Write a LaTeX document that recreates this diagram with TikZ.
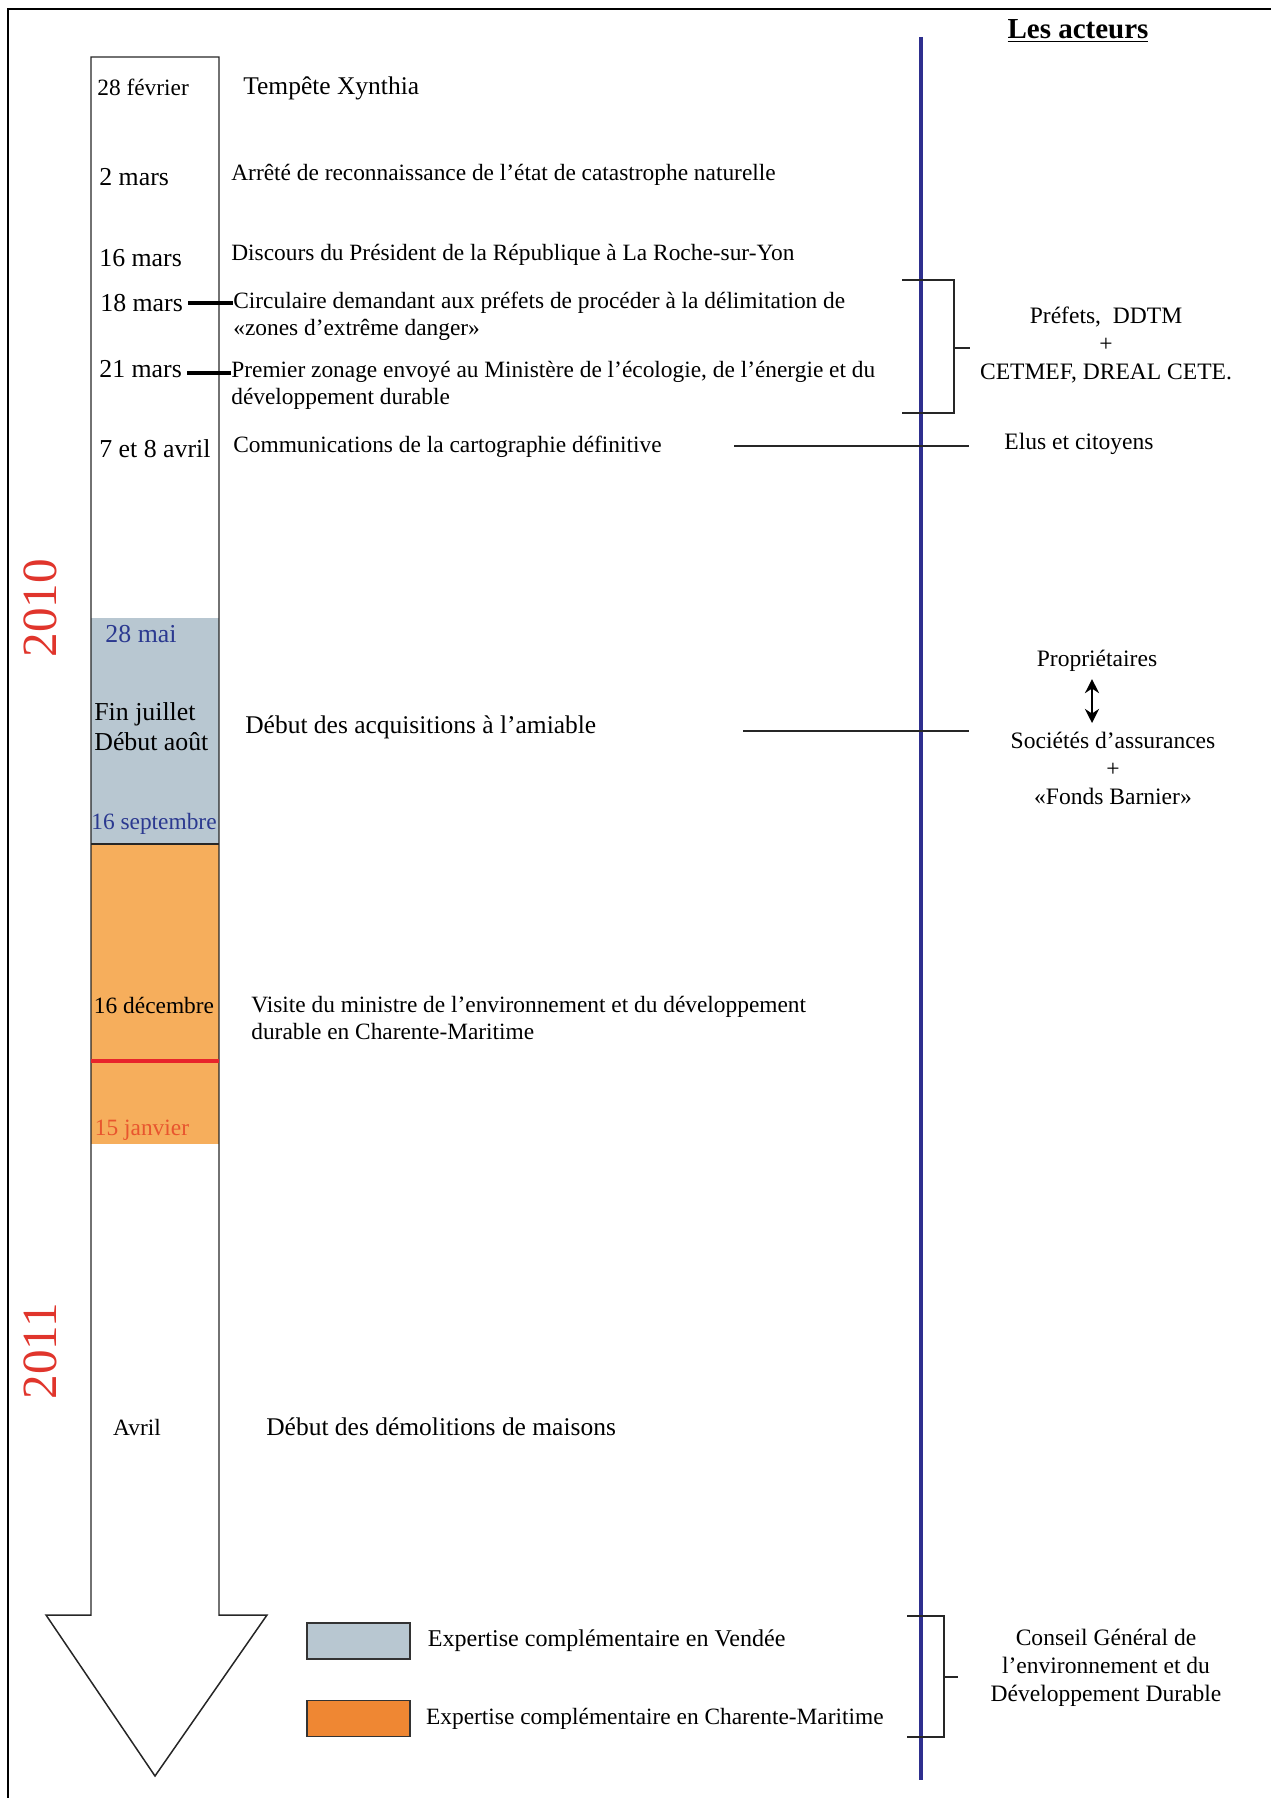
\documentclass[tikz,border=0pt]{standalone}
\usepackage{fontspec}
\setmainfont{Liberation Serif}
\usepackage{tikz}
\usetikzlibrary{arrows.meta, positioning, calc}
\definecolor{ActorBlue}{HTML}{2E2F8E}
\definecolor{VendeeGrey}{HTML}{B8C7D1}
\definecolor{CharOrange}{HTML}{F6AE5C}
\definecolor{LegendOrange}{HTML}{EF8733}
\definecolor{YearRed}{HTML}{E0352C}
\definecolor{DateBlue}{HTML}{2B3990}
\definecolor{MarkRed}{HTML}{E8242B}
\definecolor{JanRed}{HTML}{E8552E}
\tikzset{
  datelabel/.style={inner sep=0pt, anchor=west, font=\fontsize{13.3}{15.5}\selectfont},
  bigdate/.style={inner sep=0pt, anchor=west, font=\fontsize{14.7}{17}\selectfont},
  eventlabel/.style={inner sep=0pt, anchor=west, align=left, font=\fontsize{13.3}{15.4}\selectfont},
  bigevent/.style={inner sep=0pt, anchor=west, align=left, font=\fontsize{14.5}{17}\selectfont},
  actorlabel/.style={inner sep=0pt, align=center, font=\fontsize{13.4}{15.9}\selectfont},
  yearlabel/.style={inner sep=0pt, rotate=90, text=YearRed, font=\fontsize{28}{30}\selectfont},
  legendbox/.style={rectangle, draw=black!80, line width=1pt, minimum width=2.06cm, minimum height=0.72cm, inner sep=0pt},
  link/.style={draw=black!85, line width=0.85pt},
  tickline/.style={draw=black, line width=1.9pt},
  bracket/.style={draw=black!85, line width=0.85pt},
  dblarrow/.style={{Stealth[length=8pt,width=8pt]}-{Stealth[length=8pt,width=8pt]}, line width=1.4pt}
}
\begin{document}
\begin{tikzpicture}[x=0.02cm, y=-0.02cm]
  \useasboundingbox (0,0) rectangle (1271,1798);
  \draw[line width=1.6pt] (8,1798) -- (8,9) -- (1271,9);

  \fill[VendeeGrey] (91,618) rectangle (219,844);
  \fill[CharOrange] (91,844) rectangle (219,1144);
  \draw[black!85, line width=0.85pt] (91,57) -- (219,57) -- (219,1615) -- (267,1615) -- (155,1776) -- (46,1615) -- (91,1615) -- cycle;
  \draw[black!85, line width=0.85pt] (91,844) -- (219,844);
  \draw[MarkRed, line width=2.3pt] (91,1061) -- (219,1061);
  \draw[ActorBlue, line width=2.8pt] (921,37) -- (921,1780);

  \node[yearlabel] (y2010) at (40,608) {2010};
  \node[yearlabel] (y2011) at (40,1351) {2011};

  \node[datelabel] (d1) at (97,87) {28 février};
  \node[bigdate] (d2) at (99,177) {2 mars};
  \node[bigdate] (d3) at (99,258) {16 mars};
  \node[bigdate] (d4) at (100,303) {18 mars};
  \node[bigdate] (d5) at (99,369) {21 mars};
  \node[bigdate] (d6) at (99,449) {7 et 8 avril};
  \node[bigdate, anchor=center, text=DateBlue] (d7) at (141,634) {28 mai};
  \node[bigdate, align=left] (d8) at (94,727) {Fin juillet\\Début août};
  \node[datelabel, anchor=center, text=DateBlue] (d9) at (154,824) {16 septembre};
  \node[datelabel, anchor=center] (d10) at (154,1005) {16 décembre};
  \node[datelabel, anchor=center, text=JanRed] (d11) at (142,1130) {15 janvier};
  \node[datelabel, anchor=center] (d12) at (137,1427) {Avril};

  \node[bigevent] (e1) at (243,88) {Tempête Xynthia};
  \node[eventlabel] (e2) at (231,175) {Arrêté de reconnaissance de l’état de catastrophe naturelle};
  \node[eventlabel] (e3) at (231,255) {Discours du Président de la République à La Roche-sur-Yon};
  \node[eventlabel] (e4) at (233,316) {Circulaire demandant aux préfets de procéder à la délimitation de\\«zones d’extrême danger»};
  \node[eventlabel] (e5) at (231,385) {Premier zonage envoyé au Ministère de l’écologie, de l’énergie et du\\développement durable};
  \node[eventlabel] (e6) at (233,447) {Communications de la cartographie définitive};
  \node[bigevent] (e7) at (245,727) {Début des acquisitions à l’amiable};
  \node[eventlabel] (e8) at (251,1018) {Visite du ministre de l’environnement et du développement\\durable en Charente-Maritime};
  \node[bigevent] (e9) at (266,1427) {Début des démolitions de maisons};

  \draw[tickline] ([xshift=3pt]d4.east) -- (d4.east -| e4.west);
  \draw[tickline] ([xshift=3pt]d5.east |- 0,373) -- (e5.west |- 0,373);

  \node[inner sep=0pt, font=\fontsize{16.5}{18}\selectfont\bfseries] (hdr) at (1078,31) {\underline{Les acteurs}};
  \node[actorlabel] (prefets) at (1106,345) {Préfets,\ \ DDTM\\+\\CETMEF, DREAL CETE.};
  \node[actorlabel] (elus) at (1079,444) {Elus et citoyens};
  \node[actorlabel] (prop) at (1097,661) {Propriétaires};
  \node[actorlabel] (soc) at (1113,768) {Sociétés d’assurances\\+\\«Fonds Barnier»};
  \node[actorlabel] (cgedd) at (1106,1668) {Conseil Général de\\l’environnement et du\\Développement Durable};

  \coordinate (c6) at (734,446);
  \coordinate (c7a) at (743,731);
  \coordinate (c7b) at (969,731);
  \coordinate (ax) at (1092,700);
  \draw[link] (c6) -- ([xshift=-20pt]elus.west |- c6);
  \draw[link] (c7a) -- (c7b);
  \draw[dblarrow] ([yshift=-4pt]prop.south -| ax) -- (ax |- 0,723);

  \draw[bracket] (902,280) -- (954,280) -- (954,413) -- (902,413);
  \draw[bracket] (954,348) -- (970,348);
  \draw[bracket] (907,1616) -- (944,1616) -- (944,1737) -- (907,1737);
  \draw[bracket] (944,1677) -- (958,1677);

  \node[legendbox, fill=VendeeGrey] (leg1) at (358.5,1641) {};
  \node[legendbox, fill=LegendOrange] (leg2) at (358.5,1718.5) {};
  \node[eventlabel, font=\fontsize{13.7}{16}\selectfont, right=9.5pt of leg1.east, anchor=west] (leg1txt) {Expertise complémentaire en Vendée};
  \node[eventlabel, font=\fontsize{13.3}{16}\selectfont, right=8.5pt of leg2.east, anchor=west] (leg2txt) {Expertise complémentaire en Charente-Maritime};
\end{tikzpicture}
\end{document}
